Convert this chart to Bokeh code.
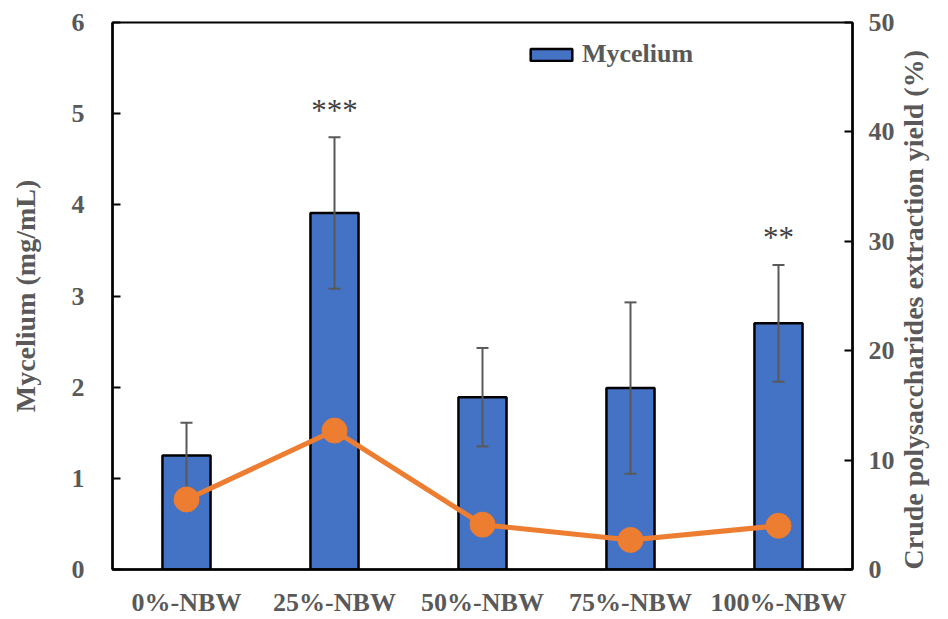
import math
from bokeh.plotting import figure
from bokeh.models import Range1d, FactorRange, LinearAxis, Legend, LegendItem, FixedTicker
from bokeh.embed import file_html
from bokeh.resources import INLINE
from bokeh.core.properties import value

# ---- data ----
groups = ["0%-NBW", "25%-NBW", "50%-NBW", "75%-NBW", "100%-NBW"]
mycelium = [1.25, 3.91, 1.89, 1.99, 2.70]          # mg/mL (left axis)
mycelium_err = [0.36, 0.83, 0.54, 0.94, 0.64]      # error bar half-lengths
yield_pct = [6.4, 12.7, 4.1, 2.7, 4.0]             # % (right axis)
significance = ["", "***", "", "", "**"]
left_ticks = [0, 1, 2, 3, 4, 5, 6]
right_ticks = [0, 10, 20, 30, 40, 50]
right_title = "Crude polysaccharides extraction yield (%)"

FONT = "Liberation Serif"
GREY = "#595959"

upper = [m + e for m, e in zip(mycelium, mycelium_err)]
lower = [m - e for m, e in zip(mycelium, mycelium_err)]

p = figure(
    width=948, height=619,
    x_range=FactorRange(*groups, range_padding=0),
    y_range=Range1d(0, 6),
    output_backend="svg", toolbar_location=None,
    min_border_left=112, min_border_right=96, min_border_top=22, min_border_bottom=45,
)
p.extra_y_ranges = {"y2": Range1d(0, 50)}
p.xgrid.visible = False
p.ygrid.visible = False
p.outline_line_color = "black"
p.outline_line_width = 2
p.background_fill_color = "white"
p.border_fill_color = "white"

bars = p.vbar(x=groups, top=mycelium, width=0.325, fill_color="#4472C4",
              line_color="black", line_width=2.5)
p.segment(x0=groups, y0=lower, x1=groups, y1=upper, line_color=GREY, line_width=2)
p.scatter(x=groups + groups, y=lower + upper, marker="dash", size=12,
          line_color=GREY, line_width=2)
p.line(x=groups, y=yield_pct, y_range_name="y2", line_color="#ED7D31", line_width=5)
p.scatter(x=groups, y=yield_pct, y_range_name="y2", size=25,
          fill_color="#ED7D31", line_color="#ED7D31")

sig_x = [g for g, s in zip(groups, significance) if s]
sig_y = [u + 0.30 for u, s in zip(upper, significance) if s]
sig_t = [s for s in significance if s]
p.text(x=sig_x, y=sig_y, text=sig_t, text_font=value(FONT), text_font_size="31px",
       text_color="#404040", text_align="center", text_baseline="middle")

def style(ax):
    ax.axis_line_color = "black"
    ax.axis_line_width = 2.5
    ax.major_tick_line_color = "black"
    ax.major_tick_line_width = 2
    ax.major_tick_in = 8
    ax.major_tick_out = 0
    ax.minor_tick_line_color = None
    ax.major_label_text_font = FONT
    ax.major_label_text_font_size = "26px"
    ax.major_label_text_font_style = "bold"
    ax.major_label_text_color = GREY
    ax.axis_label_text_font = FONT
    ax.axis_label_text_font_size = "28px"
    ax.axis_label_text_font_style = "bold"
    ax.axis_label_text_color = GREY

xa = p.xaxis[0]
style(xa)
xa.major_tick_line_color = None
xa.major_label_standoff = 18

ya = p.yaxis[0]
style(ya)
ya.ticker = FixedTicker(ticks=left_ticks)
ya.axis_label = "Mycelium (mg/mL)"
ya.major_label_standoff = 28
ya.axis_label_standoff = 28

ra = LinearAxis(y_range_name="y2", ticker=FixedTicker(ticks=right_ticks),
                axis_label=right_title)
style(ra)
ra.major_label_standoff = 16
ra.axis_label_standoff = 16
ra.axis_label_orientation = math.pi / 2
ra.axis_label_align = "start"
p.add_layout(ra, "right")

legend = Legend(items=[LegendItem(label="Mycelium", renderers=[bars])],
                location=(413, 500), glyph_width=52, glyph_height=15,
                label_text_font=FONT, label_text_font_size="26px",
                label_text_font_style="bold", label_text_color=GREY,
                border_line_color=None, background_fill_alpha=0,
                padding=0, margin=0, label_standoff=5, spacing=0)
p.add_layout(legend)

open("out.html", "w").write(file_html(p, INLINE))
